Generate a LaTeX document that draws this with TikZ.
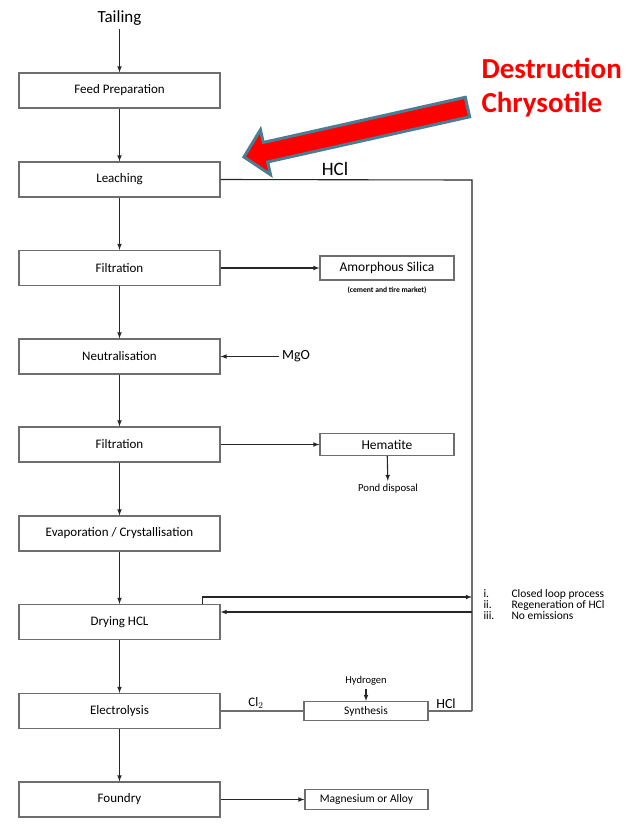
\documentclass[tikz,border=0pt]{standalone}
\usepackage{fontspec}
\setmainfont{Carlito}
\usetikzlibrary{arrows}
\usetikzlibrary{positioning}
\definecolor{BoxGray}{HTML}{6E6E6E}
\definecolor{ArrowRed}{HTML}{FF0000}
\definecolor{ArrowEdge}{HTML}{4A7E96}
\tikzset{
  stage/.style={draw=BoxGray, line width=1.2pt, fill=white, minimum width=201pt,
    minimum height=35pt, inner sep=0pt, font=\fontsize{13}{15}\selectfont},
  product/.style={draw=BoxGray, line width=1.1pt, fill=white, minimum width=134pt,
    minimum height=24pt, inner sep=0pt, font=\fontsize{13.5}{15}\selectfont},
  flow/.style={-latex, line width=1.1pt, black!85},
  feed/.style={line width=1.1pt, BoxGray}
}
\begin{document}
\begin{tikzpicture}[x=1pt,y=-1pt]
  \useasboundingbox[fill=white] (0,0) rectangle (629,831);

  % main process chain
  \node[font=\fontsize{17}{19}\selectfont] (tailing) at (119.5,18.5) {Tailing};
  \node[stage] (feedprep) at (119.5,90.5) {Feed Preparation};
  \node[stage] (leach)    at (119.5,179.5) {Leaching};
  \node[stage] (filterA)  at (119.5,268) {Filtration};
  \node[stage] (neutral)  at (119.5,356.5) {Neutralisation};
  \node[stage] (filterB)  at (119.5,444.5) {Filtration};
  \node[stage] (evap)     at (119.5,533.5) {Evaporation / Crystallisation};
  \node[stage] (drying)   at (119.5,622) {Drying HCL};
  \node[stage] (electro)  at (119.5,711) {Electrolysis};
  \node[stage] (foundry)  at (119.5,799.5) {Foundry};

  \draw[flow] (tailing) -- (feedprep);
  \foreach \a/\b in {feedprep/leach,leach/filterA,filterA/neutral,neutral/filterB,
                     filterB/evap,evap/drying,drying/electro,electro/foundry}
    \draw[flow] (\a) -- (\b);

  % side products
  \node[product] (silica) at (387,268) {Amorphous Silica};
  \node[font=\bfseries\fontsize{7.6}{8}\selectfont, below=3pt of silica] (market)
    {(cement and tire market)};
  \draw[flow] (filterA) -- (silica);

  \node[font=\fontsize{14}{16}\selectfont] (mgo) at (296,356.5) {MgO};
  \draw[flow] (mgo) -- (neutral);

  \node[product, minimum height=22pt] (hematite) at (387,444.5) {Hematite};
  \node[font=\fontsize{10.7}{12}\selectfont] (pond) at (388,489) {Pond disposal};
  \draw[flow] (hematite) -- (pond);
  \draw[flow] (filterB) -- (hematite);

  % HCl recycle loop
  \coordinate (loopTL) at (472,180);
  \coordinate (loopBR) at (472,711);
  \coordinate (dryOut) at (472,597);
  \coordinate (dryIn)  at (472,612);
  \node[font=\fontsize{19}{21}\selectfont] (hclTop) at (335,169) {HCl};
  \draw[feed, black!85] (leach.east) -- (loopTL) -- (loopBR);
  \draw[flow] (drying.north east) ++(-18,0) |- (dryOut);
  \draw[flow] (dryIn) -- (drying.east |- dryIn);

  \node[anchor=north west, align=left, font=\fontsize{11.5}{11.5}\selectfont] (notes) at (480,586)
    {\begin{tabular}{@{}p{24pt}@{\hspace{4pt}}l@{}}
      i. & Closed loop process\\[-0.5pt]
      ii. & Regeneration of HCl\\[-0.5pt]
      iii. & No emissions
    \end{tabular}};

  % chlorine to synthesis
  \node[product, minimum width=124pt, minimum height=19pt,
    font=\fontsize{11.5}{13}\selectfont] (synth) at (366,711) {Synthesis};
  \node[font=\fontsize{10.5}{12}\selectfont] (hydrogen) at (366,681) {Hydrogen};
  \draw[flow] (hydrogen) -- (synth);
  \draw[feed] (electro.east) -- (synth.west);
  \draw[feed] (synth.east) -- (loopBR);
  \node[font=\fontsize{13}{15}\selectfont] (cltwo) at (256,703) {Cl$_2$};
  \node[font=\fontsize{14}{16}\selectfont] (hclBot) at (446,704) {HCl};

  % final product
  \node[product, minimum width=123pt, minimum height=20pt,
    font=\fontsize{11.5}{13}\selectfont] (alloy) at (366.5,799.5) {Magnesium or Alloy};
  \draw[flow] (foundry) -- (alloy);

  % big red arrow
  \begin{scope}[shift={(244,157)}, rotate=12.6]
    \draw[ArrowEdge, line width=3pt, fill=ArrowRed, line join=miter]
      (0,0) -- (22,-23) -- (22,-10) -- (229,-10) -- (229,10) -- (22,10) -- (22,23) -- cycle;
  \end{scope}
  \node[anchor=north west, align=left, text=ArrowRed, font=\bfseries\fontsize{29}{34}\selectfont]
    (destruct) at (478,55) {Destruction\\Chrysotile};

\end{tikzpicture}
\end{document}
